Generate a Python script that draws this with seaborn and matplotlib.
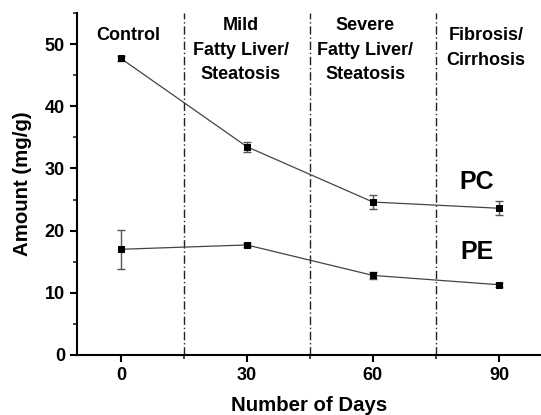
import matplotlib
matplotlib.use("Agg")
import matplotlib.pyplot as plt
import seaborn as sns
import pandas as pd
from matplotlib.ticker import MultipleLocator

days = [0, 30, 60, 90]
pc_values = [47.7, 33.5, 24.6, 23.6]
pc_errors = [0.4, 0.8, 1.15, 1.1]
pe_values = [17.0, 17.7, 12.8, 11.3]
pe_errors = [3.1, 0.3, 0.6, 0.3]
stage_bounds = [15, 45, 75]
stage_labels = ["Control", "Mild\nFatty Liver/\nSteatosis", "Severe\nFatty Liver/\nSteatosis", "Fibrosis/\nCirrhosis"]
stage_centers = [1.8, 28.6, 58.2, 86.9]
stage_tops = [52.75, 54.35, 54.35, 52.75]

sns.set_style("ticks")
plt.rcParams['font.family'] = ['Liberation Sans', 'DejaVu Sans']
plt.rcParams['font.weight'] = 'bold'

df = pd.DataFrame({
    "day": days * 2,
    "amount": pc_values + pe_values,
    "lipid": ["PC"] * 4 + ["PE"] * 4,
})

fig = plt.figure(figsize=(5.41, 4.15), dpi=100)
ax = fig.add_axes([0.1418, 0.1446, 0.8582, 0.824])

for x in stage_bounds:
    ax.axvline(x, color="#222222", lw=1.0, ls=(0, (6, 2, 1, 2)), zorder=1)

sns.lineplot(data=df, x="day", y="amount", units="lipid", estimator=None,
             color="#444444", lw=0.9, marker="s", markersize=4.5,
             markerfacecolor="black", markeredgecolor="black", ax=ax, zorder=3)
ax.errorbar(days, pc_values, yerr=pc_errors, fmt="none", ecolor="#555555",
            elinewidth=1.0, capsize=3, capthick=1.0, zorder=2)
ax.errorbar(days, pe_values, yerr=pe_errors, fmt="none", ecolor="#555555",
            elinewidth=1.0, capsize=3, capthick=1.0, zorder=2)

ax.set_xlim(-10.5, 100)
ax.set_ylim(0, 55)
ax.set_xticks(days)
ax.xaxis.set_minor_locator(MultipleLocator(15))
ax.yaxis.set_major_locator(MultipleLocator(10))
ax.yaxis.set_minor_locator(MultipleLocator(5))
ax.tick_params(axis="both", which="major", labelsize=13, width=1.5, length=5,
               direction="out", colors="black")
ax.tick_params(axis="both", which="minor", width=1.2, length=3, direction="out")
for lab in ax.get_xticklabels() + ax.get_yticklabels():
    lab.set_fontweight("bold")

sns.despine(ax=ax)
ax.spines["left"].set_linewidth(1.5)
ax.spines["bottom"].set_linewidth(1.5)
ax.spines["left"].set_color("black")
ax.spines["bottom"].set_color("black")

ax.set_xlabel("Number of Days", fontsize=14.7, fontweight="bold", labelpad=9, color="black")
ax.set_ylabel("Amount (mg/g)", fontsize=14.7, fontweight="bold", labelpad=9, color="black")

for cx, ty, lab in zip(stage_centers, stage_tops, stage_labels):
    ax.text(cx, ty, lab, ha="center", va="top", fontsize=13, fontweight="bold",
            linespacing=1.59, color="black")

ax.text(84.8, 27.9, "PC", ha="center", va="center", fontsize=18, fontweight="bold", color="black")
ax.text(84.8, 16.5, "PE", ha="center", va="center", fontsize=18, fontweight="bold", color="black")

fig.savefig("out.png", dpi=100)
